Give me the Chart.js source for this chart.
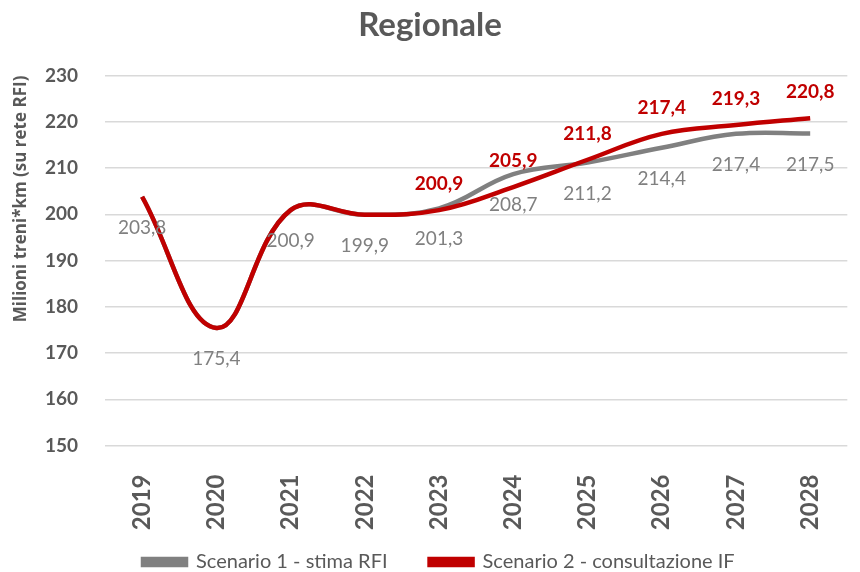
<!DOCTYPE html>
<html>
<head>
<meta charset="utf-8">
<script src="https://cdn.jsdelivr.net/npm/chart.js@4.4.1/dist/chart.umd.min.js"></script>
<style>
  html, body { margin: 0; padding: 0; background: #fff; }
  #wrap { width: 860px; height: 572px; position: relative; }
</style>
</head>
<body>
<div id="wrap"><canvas id="regionaleChart"></canvas></div>
<script>
const years = ["2019", "2020", "2021", "2022", "2023", "2024", "2025", "2026", "2027", "2028"];

const scenario1 = [203.8, 175.4, 200.9, 199.9, 201.3, 208.7, 211.2, 214.4, 217.4, 217.5];
const scenario2 = [203.8, 175.4, 200.9, 199.9, 200.9, 205.9, 211.8, 217.4, 219.3, 220.8];

// which point the value labels start from
const labelsFrom1 = 0;
const labelsFrom2 = 4;

const yTicks = [150, 160, 170, 180, 190, 200, 210, 220, 230];

const GREY = '#808080';
const RED = '#C00000';
const TEXT = '#595959';

// value labels, Italian decimal comma
const valueLabels = {
    id: 'valueLabels',
    afterDatasetsDraw(chart) {
        const ctx = chart.ctx;
        chart.data.datasets.forEach((ds, i) => {
            const meta = chart.getDatasetMeta(i);
            const lab = ds.valueLabel;
            ctx.save();
            ctx.font = lab.font;
            ctx.fillStyle = lab.color;
            ctx.textAlign = 'center';
            ctx.textBaseline = 'middle';
            meta.data.forEach((pt, j) => {
                if (j < lab.from) return;
                const txt = ds.data[j].toFixed(1).replace('.', ',');
                ctx.fillText(txt, pt.x, pt.y + lab.offset);
            });
            ctx.restore();
        });
    }
};

// move legend to the left like the Excel original
const legendShift = {
    id: 'legendShift',
    afterLayout(chart) {
        const lg = chart.legend;
        const pad = lg.options.labels.padding;
        lg.left = 143 - pad;
        lg.top = 560 - pad - 8;
    }
};

const ctx = document.getElementById('regionaleChart').getContext('2d');

new Chart(ctx, {
    type: 'line',
    data: {
        labels: years,
        datasets: [
            {
                label: 'Scenario 1 - stima RFI',
                data: scenario1,
                borderColor: GREY,
                backgroundColor: GREY,
                borderWidth: 4.5,
                pointRadius: 0,
                tension: 0.4,
                fill: false,
                order: 1,
                valueLabel: { from: labelsFrom1, color: GREY, font: '19px Lato', offset: 31 }
            },
            {
                label: 'Scenario 2 - consultazione IF',
                data: scenario2,
                borderColor: RED,
                backgroundColor: RED,
                borderWidth: 4.5,
                pointRadius: 0,
                tension: 0.4,
                fill: false,
                order: 0,
                valueLabel: { from: labelsFrom2, color: RED, font: 'bold 19px Lato', offset: -26 }
            }
        ]
    },
    options: {
        responsive: true,
        maintainAspectRatio: false,
        animation: false,
        layout: { padding: { left: 0, right: 0, top: 0, bottom: 0 } },
        plugins: {
            title: {
                display: true,
                text: 'Regionale',
                color: TEXT,
                font: { family: 'Lato', size: 33, weight: 'bold' },
                padding: { top: 6, bottom: 30 }
            },
            legend: {
                position: 'bottom',
                align: 'start',
                maxHeight: 35,
                labels: {
                    color: TEXT,
                    font: { family: 'Lato', size: 20 },
                    boxWidth: 43,
                    boxHeight: 6,
                    padding: 42,
                    sort: (a, b) => a.datasetIndex - b.datasetIndex
                }
            },
            tooltip: { enabled: false }
        },
        scales: {
            x: {
                offset: true,
                grid: { display: false },
                border: { display: false },
                ticks: {
                    color: TEXT,
                    font: { family: 'Lato', size: 24, weight: 'bold' },
                    minRotation: 90,
                    maxRotation: 90,
                    autoSkip: false,
                    padding: 21
                },
                afterFit(scale) { scale.height = 91.5; }
            },
            y: {
                min: yTicks[0],
                max: yTicks[yTicks.length - 1],
                afterBuildTicks(scale) { scale.ticks = yTicks.map(v => ({ value: v })); },
                grid: { color: '#d9d9d9', lineWidth: 1.5, drawTicks: false },
                border: { display: false },
                ticks: {
                    color: TEXT,
                    font: { family: 'Lato', size: 19, weight: 'bold' },
                    padding: 27
                },
                title: {
                    display: true,
                    text: 'Milioni treni*km (su rete RFI)',
                    color: TEXT,
                    align: 'end',
                    font: { family: 'Open Sans', size: 17, weight: 'bold' },
                    padding: { top: 11, bottom: 0 }
                },
                afterFit(scale) { scale.width = 105; }
            }
        }
    },
    plugins: [valueLabels, legendShift]
});
</script>
</body>
</html>
